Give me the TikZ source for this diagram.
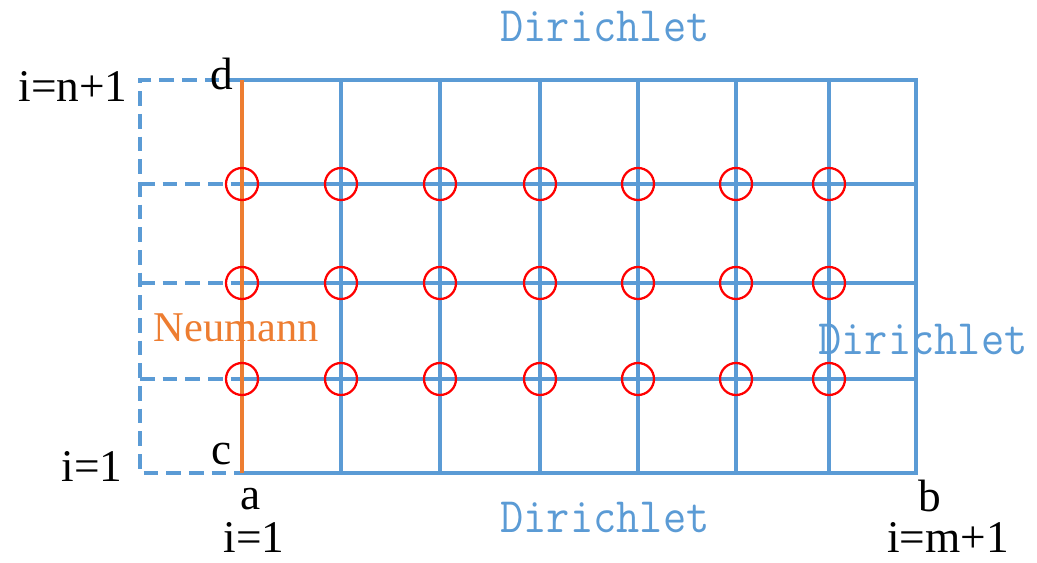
\documentclass[tikz,border=0pt]{standalone}
\usepackage{fontspec}
\setmainfont{Liberation Serif}
\usetikzlibrary{positioning}
\definecolor{gridblue}{HTML}{5B9BD5}
\definecolor{bndorange}{HTML}{ED7D31}

\begin{document}
\begin{tikzpicture}[
    x=0.75pt, y=-0.75pt,
    gline/.style  = {draw=gridblue, line width=3.2pt},
    ghost/.style  = {draw=gridblue, line width=3.2pt,
                     dash pattern=on 11pt off 6pt},
    nbline/.style = {draw=bndorange, line width=3.2pt},
    unk/.style    = {circle, draw=red, line width=1.7pt,
                     minimum size=24pt, inner sep=0pt},
    bc/.style     = {font=\ttfamily\fontsize{33.8}{34}\selectfont,
                     text=gridblue, anchor=base, inner sep=0pt},
    idx/.style    = {font=\fontsize{34}{34}\selectfont,
                     anchor=base, inner sep=0pt},
  ]
  \useasboundingbox (0,0) rectangle (1037,563);
  % grid points, j=1 is the bottom row
  \foreach \x [count=\i] in {242,341,440,540,638,736,829,916}{
    \foreach \y [count=\j] in {473,379,283,184,80}{
      \coordinate (p\i-\j) at (\x,\y);
    }
  }
  % ghost column left of the Neumann edge
  \foreach \y [count=\j] in {473,379,283,184,80}{
    \coordinate (q-\j) at (140,\y);
  }
  % solid grid
  \foreach \j in {2,3,4}{
    \draw[gline] (p1-\j) -- (p8-\j);
  }
  \foreach \i in {2,...,7}{
    \draw[gline] (p\i-1) -- (p\i-5);
  }
  \draw[gline] (p1-5) -- (p8-5) -- (p8-1) -- (p1-1);
  % ghost cells
  \draw[ghost] (p1-5) -- (q-5) -- (q-1) -- (p1-1);
  \foreach \j in {2,3,4}{
    \draw[ghost] (q-\j) -- (p1-\j);
  }
  % Neumann edge
  \draw[nbline] (p1-1) -- (p1-5);
  % unknowns
  \foreach \i in {1,...,7}{
    \foreach \j in {2,3,4}{
      \node[unk] (u\i-\j) at (p\i-\j) {};
    }
  }
  % boundary labels
  \node[bc] (dtop) at (605,42)  {\scalebox{1}[1.1]{Dirichlet}};
  \node[bc] (dbot) at (605,532) {\scalebox{1}[1.1]{Dirichlet}};
  \node[bc] (drgt) at (923,354) {\scalebox{1}[1.1]{Dirichlet}};
  \node[anchor=base, inner sep=0pt, text=bndorange,
        font=\fontsize{31.8}{32}\selectfont] (neu) at (236,341) {Neumann};
  % corner and index labels
  \node[idx] (ltop) at (73,102)  {i=n+1};
  \node[idx] (lbot) at (92,481)  {i=1};
  \node[idx] (cd)   at (222,90)  {d};
  \node[idx] (cc)   at (222,464) {c};
  \node[idx] (ca)   at (251,509) {a};
  \node[idx] (cb)   at (930,511) {b};
  \node[idx] (ia)   at (254,552) {i=1};
  \node[idx] (ib)   at (948,552) {i=m+1};
\end{tikzpicture}
\end{document}
